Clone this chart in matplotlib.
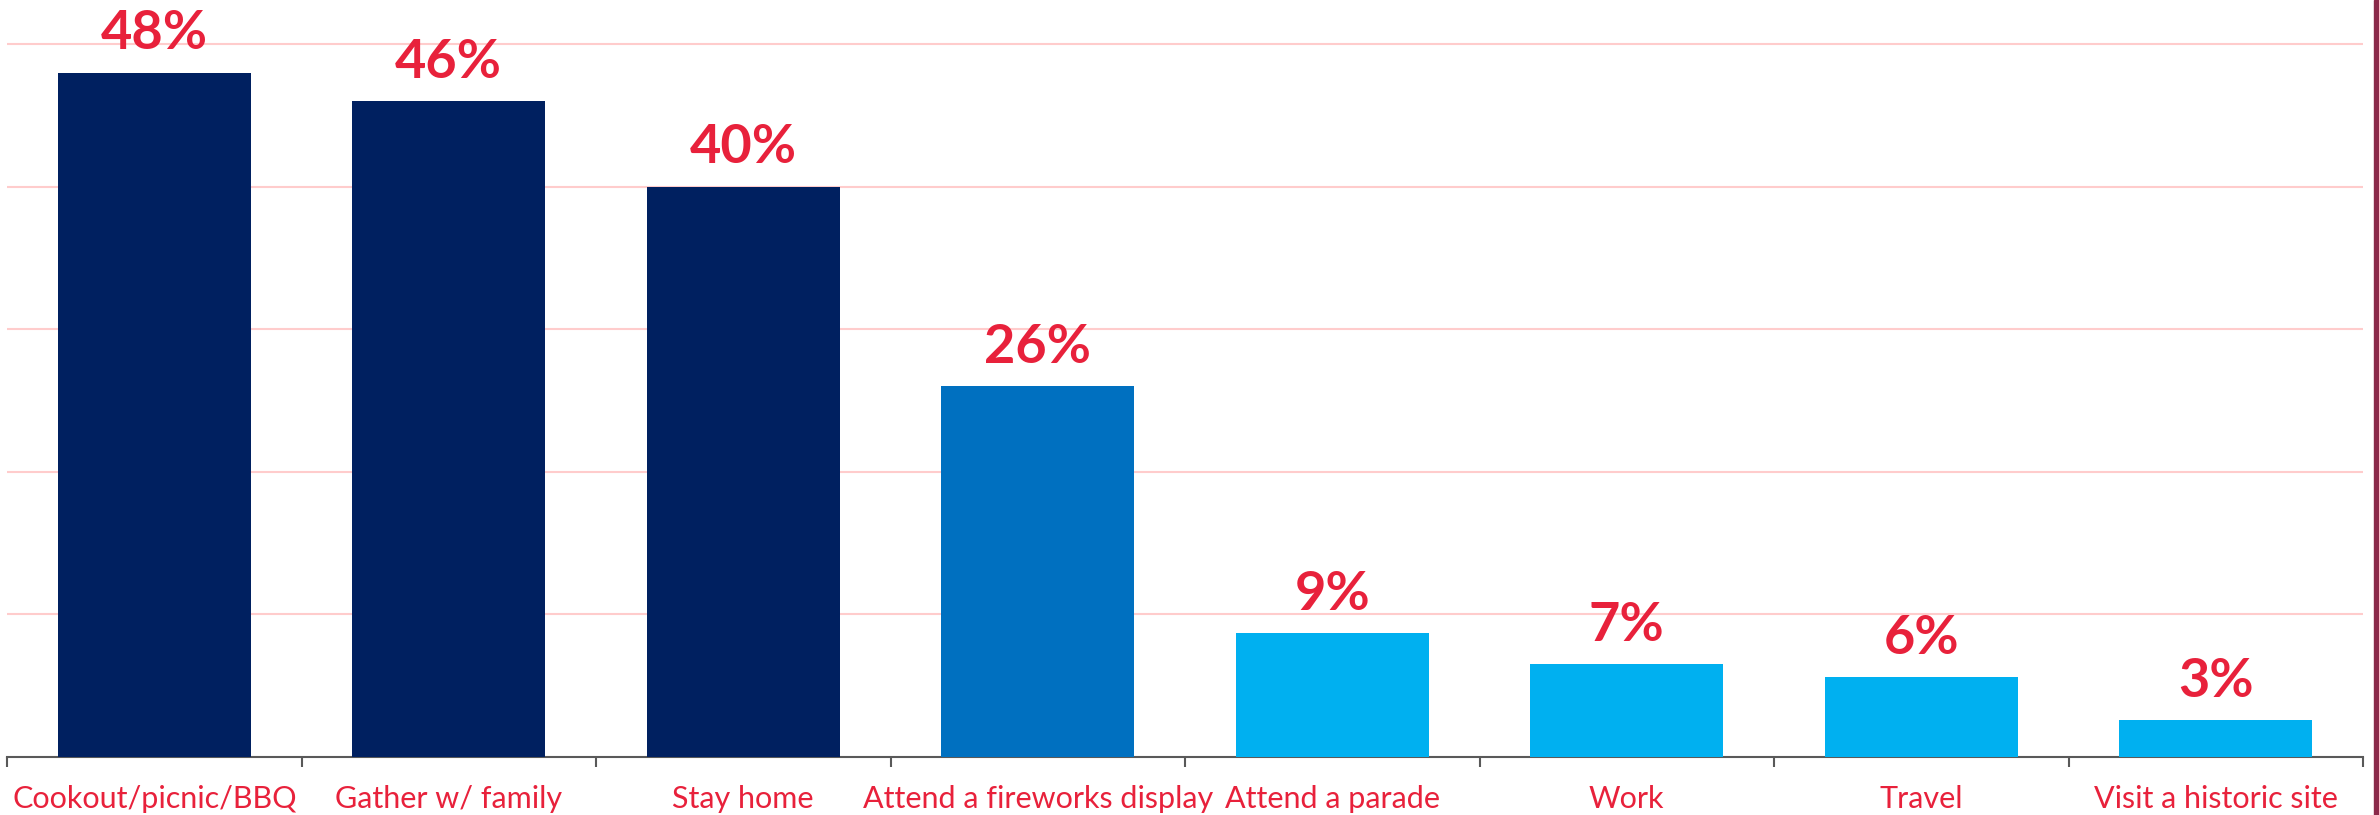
import numpy as np
import matplotlib
matplotlib.use("Agg")
import matplotlib.pyplot as plt
from matplotlib.patches import Rectangle

# Data
categories = ["Cookout/picnic/BBQ", "Gather w/ family", "Stay home",
              "Attend a fireworks display", "Attend a parade", "Work",
              "Travel", "Visit a historic site"]
values = [48, 46, 40, 26, 8.7, 6.5, 5.6, 2.6]
value_labels = ["48%", "46%", "40%", "26%", "9%", "7%", "6%", "3%"]
bar_colors = ["#002060", "#002060", "#002060", "#0070C0",
              "#00B0F0", "#00B0F0", "#00B0F0", "#00B0F0"]

red = "#E8213B"
plt.rcParams['font.family'] = ['Lato', 'DejaVu Sans']

fig = plt.figure(figsize=(23.79, 8.15), dpi=100)
ax = fig.add_axes([7 / 2379, 58 / 815, (2363 - 7) / 2379, 1 - 58 / 815])

x = np.arange(len(categories))
ax.bar(x, values, width=0.655, color=bar_colors, zorder=3)

# percent labels above bars
for xi, v, lab in zip(x, values, value_labels):
    ax.text(xi, v + 1.0, lab, ha="center", va="bottom", color=red,
            fontsize=39, fontweight="bold", zorder=4)

ax.set_xlim(-0.5, len(categories) - 0.5)
ax.set_ylim(0, 53.1)
ax.set_yticks([10, 20, 30, 40, 50])
ax.yaxis.grid(True, color="#FFCCCC", linewidth=1.5, zorder=0)
ax.tick_params(axis="y", left=False, labelleft=False)

ax.set_xticks(x)
ax.set_xticklabels(categories, color=red, fontsize=22)
ax.tick_params(axis="x", which="major", length=0, pad=20)
ax.set_xticks(np.arange(-0.5, len(categories)), minor=True)
ax.tick_params(axis="x", which="minor", length=7, width=1.5, color="#595959")

for s in ["top", "right", "left"]:
    ax.spines[s].set_visible(False)
ax.spines["bottom"].set_color("#595959")
ax.spines["bottom"].set_linewidth(1.5)

# right edge stripe
fig.patches.append(Rectangle((2374 / 2379, 0), 5 / 2379, 1, transform=fig.transFigure,
                             color="#8B2A4A", zorder=10))

fig.savefig("out.png", dpi=100)
